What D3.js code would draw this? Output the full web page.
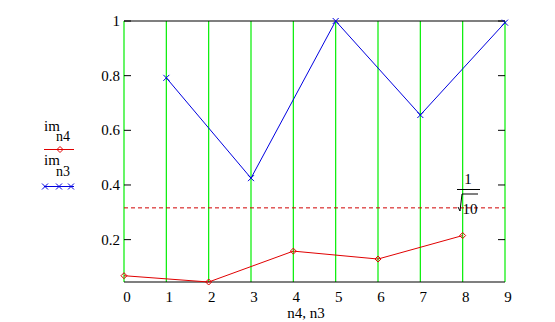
<!DOCTYPE html>
<html>
<head>
<meta charset="utf-8">
<script src="https://cdn.jsdelivr.net/npm/d3@7"></script>
<style>
  body { margin: 0; background: #fff; }
</style>
</head>
<body>
<script>
// data
const n = [0, 1, 2, 3, 4, 5, 6, 7, 8, 9];
const n4 = [0, 2, 4, 6, 8];
const imN4 = [0.068, 0.045, 0.158, 0.129, 0.215];
const n3 = [1, 3, 5, 7, 9];
const imN3 = [0.792, 0.425, 1.0, 0.656, 0.994];
const yTicks = [0.2, 0.4, 0.6, 0.8, 1];
const yTickLabels = ["0.2", "0.4", "0.6", "0.8", "1"];
const markerLevel = 1 / Math.sqrt(10);

const W = 555, H = 322;
const plot = {left: 124, right: 505, top: 21, bottom: 282};

const svg = d3.select("body").append("svg")
    .attr("width", W)
    .attr("height", H)
    .style("font-family", "'Liberation Serif', 'DejaVu Serif', serif");

const x = d3.scaleLinear().domain([0, 9]).range([plot.left, plot.right]);
const y = d3.scaleLinear().domain([0.045, 1]).range([plot.bottom, plot.top]);

// green grid lines at each x
svg.append("g").selectAll("line")
    .data(n)
    .join("line")
        .attr("x1", d => x(d)).attr("x2", d => x(d))
        .attr("y1", plot.top).attr("y2", plot.bottom)
        .attr("stroke", "#00ee00")
        .attr("stroke-width", 1.2);

// frame top and bottom
svg.append("line")
    .attr("x1", plot.left).attr("x2", plot.right)
    .attr("y1", plot.top).attr("y2", plot.top)
    .attr("stroke", "#000").attr("stroke-width", 1.2);
svg.append("line")
    .attr("x1", plot.left).attr("x2", plot.right)
    .attr("y1", plot.bottom).attr("y2", plot.bottom)
    .attr("stroke", "#000").attr("stroke-width", 1.2);

// y ticks, inside on both sides
const yt = svg.append("g").selectAll("g")
    .data(yTicks)
    .join("g");
yt.append("line")
    .attr("x1", plot.left).attr("x2", plot.left + 7)
    .attr("y1", d => y(d)).attr("y2", d => y(d))
    .attr("stroke", "#000");
yt.append("line")
    .attr("x1", plot.right - 7).attr("x2", plot.right)
    .attr("y1", d => y(d)).attr("y2", d => y(d))
    .attr("stroke", "#000");
yt.append("text")
    .attr("x", plot.left - 4)
    .attr("y", d => y(d) + 5)
    .attr("text-anchor", "end")
    .attr("font-size", 15)
    .text((d, i) => yTickLabels[i]);

// x tick labels
svg.append("g").selectAll("text")
    .data(n)
    .join("text")
        .attr("x", d => x(d) + 3)
        .attr("y", 302)
        .attr("text-anchor", "middle")
        .attr("font-size", 15)
        .text(d => d);

svg.append("text")
    .attr("x", 306)
    .attr("y", 318)
    .attr("text-anchor", "middle")
    .attr("font-size", 15)
    .text("n4, n3");

// dashed reference line 1/sqrt(10)
svg.append("line")
    .attr("x1", plot.left).attr("x2", plot.right)
    .attr("y1", y(markerLevel)).attr("y2", y(markerLevel))
    .attr("stroke", "#d00000")
    .attr("stroke-dasharray", "4,3");

const lab = svg.append("g").attr("transform", "translate(468,0)");
lab.append("text").attr("x", 0).attr("y", 184)
    .attr("text-anchor", "middle").attr("font-size", 15).text("1");
lab.append("line").attr("x1", -11).attr("x2", 12)
    .attr("y1", 189.5).attr("y2", 189.5).attr("stroke", "#000");
lab.append("path")
    .attr("d", "M-10,207 L-8,211 L-6,194 L10,194")
    .attr("fill", "none").attr("stroke", "#000");
lab.append("text").attr("x", 2).attr("y", 214)
    .attr("text-anchor", "middle").attr("font-size", 15).text("10");

// series lines
const line = d3.line().x(d => x(d[0])).y(d => y(d[1]));
const redPts = n4.map((d, i) => [d, imN4[i]]);
const bluePts = n3.map((d, i) => [d, imN3[i]]);

svg.append("path").datum(redPts)
    .attr("d", line)
    .attr("fill", "none").attr("stroke", "#e00000");
svg.append("path").datum(bluePts)
    .attr("d", line)
    .attr("fill", "none").attr("stroke", "#0000e0");

// markers
function diamond(g, cx, cy) {
    g.append("path")
        .attr("d", `M${cx - 3},${cy} L${cx},${cy - 3} L${cx + 3},${cy} L${cx},${cy + 3} Z`)
        .attr("fill", "none").attr("stroke", "#e00000");
}
function cross(g, cx, cy) {
    g.append("path")
        .attr("d", `M${cx - 3},${cy - 3} L${cx + 3},${cy + 3} M${cx - 3},${cy + 3} L${cx + 3},${cy - 3}`)
        .attr("stroke", "#0000e0");
}
const mk = svg.append("g");
redPts.forEach(d => diamond(mk, x(d[0]), y(d[1])));
bluePts.forEach(d => cross(mk, x(d[0]), y(d[1])));

// legend
const lg = svg.append("g");
lg.append("text").attr("x", 44).attr("y", 131).attr("font-size", 15).text("im");
lg.append("text").attr("x", 56).attr("y", 141).attr("font-size", 14).text("n4");
lg.append("line").attr("x1", 44).attr("x2", 74).attr("y1", 149.5).attr("y2", 149.5)
    .attr("stroke", "#e00000");
diamond(lg, 60, 149.5);
lg.append("text").attr("x", 44).attr("y", 165).attr("font-size", 15).text("im");
lg.append("text").attr("x", 56).attr("y", 176).attr("font-size", 14).text("n3");
lg.append("line").attr("x1", 44).attr("x2", 74).attr("y1", 186.5).attr("y2", 186.5)
    .attr("stroke", "#0000e0");
[45, 59, 71].forEach(cx => cross(lg, cx, 186.5));
</script>
</body>
</html>
